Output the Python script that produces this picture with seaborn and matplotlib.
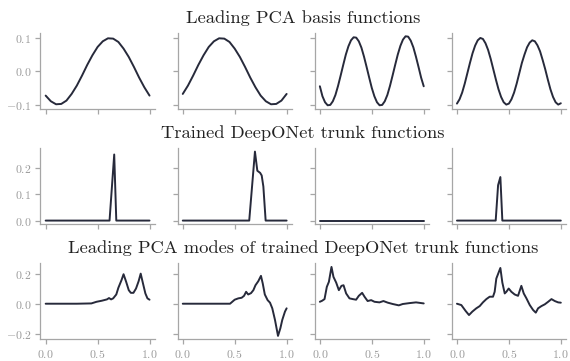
import numpy as np
import pandas as pd
import matplotlib
matplotlib.use("Agg")
import matplotlib.pyplot as plt
import seaborn as sns

# ---------------- data ----------------
row_titles = ["Leading PCA basis functions",
              "Trained DeepONet trunk functions",
              "Leading PCA modes of trained DeepONet trunk functions"]

x_tick_values = [0.0, 0.5, 1.0]
y_ticks_rows = [[-0.1, 0.0, 0.1], [0.0, 0.1, 0.2], [-0.2, 0.0, 0.2]]

# Row 1: leading PCA basis functions
pca1_x = [0.00, 0.05, 0.10, 0.15, 0.20, 0.25, 0.30, 0.35, 0.40, 0.45, 0.50,
          0.55, 0.60, 0.65, 0.70, 0.75, 0.80, 0.85, 0.90, 0.95, 1.00]
pca1_y = [-0.073, -0.090, -0.099, -0.098, -0.088, -0.068, -0.043, -0.013, 0.019, 0.048, 0.073,
          0.090, 0.099, 0.098, 0.088, 0.068, 0.043, 0.013, -0.019, -0.048, -0.073]
pca2_x = pca1_x
pca2_y = [-0.068, -0.043, -0.013, 0.019, 0.048, 0.073, 0.090, 0.099, 0.098, 0.088, 0.068,
          0.043, 0.013, -0.019, -0.048, -0.073, -0.090, -0.099, -0.098, -0.088, -0.068]
pca3_x = [0.000, 0.025, 0.050, 0.075, 0.100, 0.125, 0.150, 0.175, 0.200, 0.225, 0.250,
          0.275, 0.300, 0.325, 0.350, 0.375, 0.400, 0.425, 0.450, 0.475, 0.500,
          0.525, 0.550, 0.575, 0.600, 0.625, 0.650, 0.675, 0.700, 0.725, 0.750,
          0.775, 0.800, 0.825, 0.850, 0.875, 0.900, 0.925, 0.950, 0.975, 1.000]
pca3_y = [-0.045, -0.075, -0.093, -0.102, -0.101, -0.090, -0.071, -0.044, -0.013, 0.019, 0.050,
          0.075, 0.093, 0.102, 0.101, 0.090, 0.071, 0.044, 0.013, -0.019, -0.050,
          -0.075, -0.093, -0.102, -0.101, -0.090, -0.071, -0.044, -0.013, 0.019, 0.050,
          0.076, 0.095, 0.105, 0.104, 0.092, 0.072, 0.044, 0.013, -0.019, -0.045]
pca4_x = pca3_x
pca4_y = [-0.097, -0.084, -0.064, -0.037, -0.006, 0.025, 0.054, 0.077, 0.093, 0.100, 0.097,
          0.084, 0.064, 0.037, 0.006, -0.025, -0.054, -0.077, -0.093, -0.100, -0.097,
          -0.084, -0.064, -0.037, -0.006, 0.025, 0.050, 0.072, 0.086, 0.093, 0.090,
          0.078, 0.060, 0.034, 0.006, -0.025, -0.054, -0.077, -0.093, -0.100, -0.096]

# Row 2: trained DeepONet trunk functions
trunk1_x = [0.0, 0.615, 0.66, 0.68, 1.0]
trunk1_y = [0.0, 0.0, 0.252, 0.0, 0.0]
trunk2_x = [0.0, 0.64, 0.695, 0.718, 0.745, 0.76, 0.776, 0.798, 1.0]
trunk2_y = [0.0, 0.0, 0.263, 0.19, 0.182, 0.172, 0.13, 0.0, 0.0]
trunk3_x = [0.0, 0.5, 1.0]
trunk3_y = [0.0, 0.0, 0.0]
trunk4_x = [0.0, 0.373, 0.396, 0.418, 0.437, 1.0]
trunk4_y = [0.0, 0.0, 0.135, 0.166, 0.0, 0.0]

# Row 3: leading PCA modes of trained trunk functions
mode1_x = [0.0, 0.30, 0.44, 0.49, 0.54, 0.59, 0.61, 0.63, 0.65, 0.68, 0.70, 0.73, 0.75,
           0.775, 0.80, 0.82, 0.845, 0.87, 0.895, 0.915, 0.935, 0.96, 0.98, 1.0]
mode1_y = [0.0, 0.0, 0.002, 0.013, 0.020, 0.029, 0.038, 0.029, 0.036, 0.062, 0.107, 0.158, 0.198,
           0.147, 0.091, 0.073, 0.073, 0.102, 0.151, 0.202, 0.142, 0.069, 0.036, 0.027]
mode2_x = [0.0, 0.455, 0.47, 0.50, 0.535, 0.567, 0.59, 0.61, 0.63, 0.657, 0.68, 0.70, 0.727,
           0.753, 0.77, 0.79, 0.817, 0.84, 0.862, 0.888, 0.917, 0.94, 0.958, 0.984, 1.0]
mode2_y = [0.0, 0.0, 0.009, 0.027, 0.036, 0.040, 0.053, 0.080, 0.062, 0.071, 0.091, 0.124, 0.151,
           0.187, 0.136, 0.062, 0.024, 0.007, -0.031, -0.109, -0.216, -0.164, -0.109, -0.053, -0.031]
mode3_x = [0.0, 0.022, 0.045, 0.067, 0.087, 0.112, 0.131, 0.157, 0.183, 0.208, 0.228, 0.253,
           0.285, 0.317, 0.349, 0.375, 0.407, 0.43, 0.46, 0.494, 0.526, 0.574, 0.612, 0.654,
           0.702, 0.76, 0.798, 0.862, 0.926, 1.0]
mode3_y = [0.013, 0.020, 0.031, 0.113, 0.147, 0.247, 0.180, 0.142, 0.091, 0.120, 0.124, 0.069,
           0.036, 0.031, 0.027, 0.053, 0.073, 0.047, 0.018, 0.024, 0.013, 0.009, 0.018, 0.007,
           -0.002, -0.011, -0.002, 0.004, 0.009, 0.002]
mode4_x = [0.0, 0.042, 0.084, 0.116, 0.148, 0.186, 0.219, 0.25, 0.283, 0.315, 0.347, 0.363,
           0.379, 0.418, 0.437, 0.46, 0.476, 0.498, 0.524, 0.556, 0.588, 0.62, 0.643, 0.669,
           0.701, 0.733, 0.759, 0.781, 0.813, 0.846, 0.878, 0.91, 0.942, 0.974, 1.0]
mode4_y = [0.0, -0.009, -0.049, -0.076, -0.053, -0.031, -0.016, 0.009, 0.031, 0.047, 0.047, 0.080,
           0.169, 0.240, 0.142, 0.069, 0.080, 0.102, 0.080, 0.062, 0.053, 0.120, 0.069, 0.036,
           -0.009, -0.042, -0.060, -0.031, -0.016, -0.004, 0.013, 0.031, 0.018, 0.009, 0.007]

rows = [
    [(pca1_x, pca1_y), (pca2_x, pca2_y), (pca3_x, pca3_y), (pca4_x, pca4_y)],
    [(trunk1_x, trunk1_y), (trunk2_x, trunk2_y), (trunk3_x, trunk3_y), (trunk4_x, trunk4_y)],
    [(mode1_x, mode1_y), (mode2_x, mode2_y), (mode3_x, mode3_y), (mode4_x, mode4_y)],
]

# ---------------- style ----------------
sns.set_theme(style="ticks")
grey = "#a6a6a6"
plt.rcParams.update({
    "font.family": ["cmr10", "DejaVu Serif"],
    "mathtext.fontset": "cm",
    "axes.formatter.use_mathtext": True,
    "axes.unicode_minus": True,
    "axes.edgecolor": grey,
    "axes.linewidth": 0.9,
    "xtick.color": grey,
    "ytick.color": grey,
    "xtick.labelcolor": "#9a9a9a",
    "ytick.labelcolor": "#9a9a9a",
    "xtick.labelsize": 8.5,
    "ytick.labelsize": 8.5,
    "xtick.major.size": 3.5,
    "ytick.major.size": 3.5,
    "xtick.major.width": 0.9,
    "ytick.major.width": 0.9,
    "xtick.major.pad": 2.5,
    "ytick.major.pad": 3.0,
})

line_color = "#272a3b"

fig, axes = plt.subplots(3, 4, figsize=(5.7, 3.61), dpi=100, sharex=True, sharey="row",
                         gridspec_kw=dict(left=0.071, right=0.993, top=0.909, bottom=0.060,
                                          wspace=0.20, hspace=0.52))

for r, row in enumerate(rows):
    for c, (xs, ys) in enumerate(row):
        ax = axes[r, c]
        df = pd.DataFrame({"x": xs, "y": ys})
        sns.lineplot(data=df, x="x", y="y", ax=ax, color=line_color, linewidth=1.4,
                     estimator=None, sort=False)
        ax.set_xlabel("")
        ax.set_ylabel("")
        ax.set_xticks(x_tick_values)
        ax.set_yticks(y_ticks_rows[r])
        sns.despine(ax=ax)
    # row title, centred over the row, just above the axes
    bb_left = axes[r, 0].get_position()
    bb_right = axes[r, 3].get_position()
    xc = (bb_left.x0 + bb_right.x1) / 2
    fig.text(xc, bb_left.y1 + 10 / 361, row_titles[r], ha="center", va="baseline",
             fontsize=13.3, color="#222222")

fig.savefig("out.png", dpi=100)
